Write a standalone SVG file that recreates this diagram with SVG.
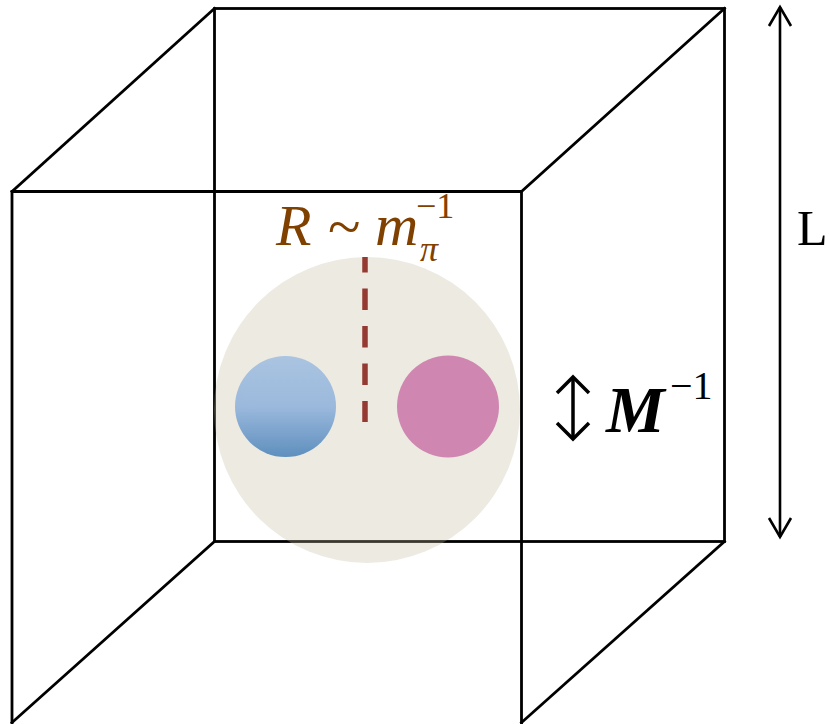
<svg xmlns="http://www.w3.org/2000/svg" width="830" height="724" viewBox="0 0 830 724">
<style>
.edge{stroke:#000;stroke-width:2.8;fill:none;stroke-linecap:square}
.math{font-family:"Liberation Serif","Times New Roman",serif;font-style:italic}
.rm{font-family:"Liberation Serif","Times New Roman",serif}
</style>
<defs>
<linearGradient id="blueGrad" x1="0" y1="0" x2="0" y2="1">
<stop offset="0" stop-color="#AAC4E1"/>
<stop offset="0.5" stop-color="#9BB9DC"/>
<stop offset="1" stop-color="#5E8FBE"/>
</linearGradient>
</defs>
<rect width="830" height="724" fill="#fff"/>
<g id="back-face">
<rect class="edge" x="214.5" y="8.5" width="510" height="533"/>
</g>
<g id="cloud">
<circle cx="367" cy="410" r="153" fill="#C3B99B" fill-opacity="0.3"/>
</g>
<g id="connectors">
<line class="edge" x1="12" y1="191.5" x2="214.5" y2="8.5"/>
<line class="edge" x1="521.5" y1="191.5" x2="724.5" y2="8.5"/>
<line class="edge" x1="724.5" y1="541.5" x2="521.5" y2="722.5"/>
<line class="edge" x1="214.5" y1="541.5" x2="12" y2="722.5"/>
</g>
<g id="front-face">
<polyline class="edge" points="12,730 12,191.5 521.5,191.5 521.5,730"/>
</g>
<g id="radius">
<line x1="365" y1="257" x2="365" y2="422" stroke="#943A32" stroke-width="5.5" stroke-dasharray="21.5 16" stroke-dashoffset="6"/>
</g>
<g id="blue-particle">
<circle cx="285.5" cy="406.5" r="50.5" fill="url(#blueGrad)"/>
</g>
<g id="pink-particle">
<circle cx="448" cy="406.5" r="51" fill="#CF87B1"/>
</g>
<g id="label-R" fill="#7F4000">
<text class="math" x="276" y="245" font-size="58">R</text>
<text class="rm" x="328" y="247" font-size="60">~</text>
<text class="math" x="375" y="245" font-size="60">m</text>
<text class="math" x="420" y="261" font-size="36">π</text>
<text class="rm" x="416" y="218" font-size="36">−1</text>
</g>
<g id="size-arrow">
<line x1="573" y1="377" x2="573" y2="439" stroke="#000" stroke-width="3.5"/>
<polyline points="557,393 573,377 589,393" fill="none" stroke="#000" stroke-width="3.5"/>
<polyline points="557,423 573,439 589,423" fill="none" stroke="#000" stroke-width="3.5"/>
<text class="math" x="606" y="432" font-size="66" font-weight="bold">M</text>
<text class="rm" x="670" y="399" font-size="40">−1</text>
</g>
<g id="length-arrow">
<line x1="780" y1="7" x2="780" y2="537" stroke="#000" stroke-width="2.6"/>
<polyline points="769,26 780,7 791,26" fill="none" stroke="#000" stroke-width="2.6"/>
<polyline points="769,518 780,537 791,518" fill="none" stroke="#000" stroke-width="2.6"/>
<text class="rm" x="797" y="245" font-size="50">L</text>
</g>
</svg>
